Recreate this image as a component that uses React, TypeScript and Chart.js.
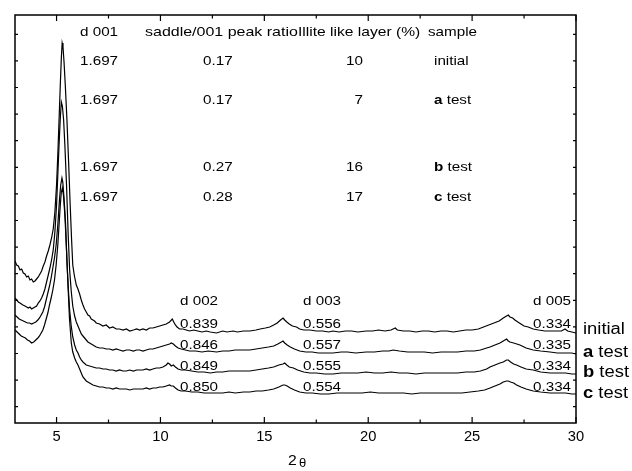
import { useEffect, useRef } from 'react';
import { Chart, registerables } from 'chart.js';
Chart.register(...registerables);

// x axis (2θ, degrees)
const X_MIN = 3;
const X_MAX = 30;
const X_MAJOR = [5, 10, 15, 20, 25, 30];
const X_MINOR = [7.5, 12.5, 17.5, 22.5, 27.5];
// y axis (arbitrary intensity, stacked traces)
const Y_MIN = 0;
const Y_MAX = 408;
const Y_TICKS = [16.3, 42.9, 69.5, 96.1, 122.7, 149.3, 175.9, 202.5, 229.1, 255.7, 282.3, 308.9, 335.5, 362.1, 388.7];

const SAMPLES = ['initial', 'a test', 'b test', 'c test'];

const INITIAL: [number, number][] = [
  [3.0, 162], [3.08, 158], [3.16, 157], [3.24, 153], [3.32, 154], [3.4, 150], [3.48, 149], [3.56, 146], [3.64, 147], [3.72, 143],
  [3.8, 144], [3.88, 141], [3.96, 142], [4.04, 144], [4.12, 146], [4.2, 149], [4.28, 152], [4.36, 157], [4.44, 161], [4.52, 167],
  [4.6, 172], [4.68, 178], [4.76, 185], [4.84, 194], [4.92, 211], [5.0, 238], [5.06, 268], [5.12, 303], [5.18, 338], [5.23, 365],
  [5.27, 380], [5.31, 376], [5.36, 361], [5.42, 338], [5.5, 303], [5.58, 261], [5.65, 221], [5.72, 185], [5.78, 158], [5.86, 147],
  [5.95, 138], [6.03, 134], [6.11, 129], [6.19, 123], [6.27, 118], [6.35, 114], [6.43, 111], [6.51, 108], [6.59, 107], [6.67, 104],
  [6.75, 103], [6.83, 102], [6.91, 100], [7.07, 99], [7.23, 97], [7.39, 98], [7.55, 95], [7.71, 96], [7.87, 94], [8.03, 94],
  [8.2, 93], [8.36, 94], [8.52, 92], [8.7, 93], [8.85, 94], [9.0, 93], [9.16, 94], [9.32, 93], [9.48, 95], [9.64, 95],
  [9.8, 96], [9.96, 97], [10.12, 98], [10.28, 99], [10.44, 101], [10.57, 104], [10.64, 101], [10.72, 98], [10.8, 96], [10.92, 94],
  [11.08, 94], [11.24, 93], [11.4, 92], [11.6, 93], [11.8, 92], [12.0, 91], [12.2, 92], [12.4, 91], [12.7, 90], [13.0, 92],
  [13.2, 91], [13.5, 92], [13.7, 91], [14.0, 92], [14.3, 92], [14.6, 93], [14.8, 94], [15.05, 95], [15.26, 96], [15.45, 98],
  [15.62, 100], [15.78, 103], [15.9, 105], [15.98, 103], [16.08, 101], [16.2, 99], [16.35, 97], [16.55, 96], [16.7, 94], [16.9, 93],
  [17.2, 93], [17.5, 92], [17.8, 92], [18.1, 91], [18.3, 92], [18.6, 91], [18.9, 92], [19.2, 92], [19.5, 91], [19.9, 92],
  [20.2, 92], [20.5, 93], [20.8, 92], [21.1, 93], [21.3, 95], [21.4, 93], [21.7, 92], [22.0, 92], [22.3, 91], [22.6, 92],
  [22.9, 92], [23.2, 91], [23.5, 92], [23.8, 92], [24.1, 91], [24.4, 92], [24.7, 93], [25.0, 93], [25.3, 94], [25.55, 96],
  [25.8, 98], [26.05, 100], [26.3, 102], [26.5, 105], [26.66, 107], [26.74, 108], [26.82, 106], [26.95, 105], [27.06, 103], [27.2, 101],
  [27.35, 99], [27.5, 97], [27.7, 96], [27.94, 94], [28.2, 93], [28.5, 92], [28.75, 92], [29.0, 92], [29.3, 92], [29.47, 94],
  [29.6, 92], [29.8, 91], [30.0, 90],
];

const A_TEST: [number, number][] = [
  [3.0, 125], [3.08, 123], [3.16, 121], [3.24, 120], [3.38, 118], [3.48, 117], [3.56, 116], [3.64, 115], [3.72, 116], [3.8, 114],
  [3.88, 115], [3.96, 116], [4.04, 117], [4.12, 120], [4.2, 122], [4.28, 125], [4.36, 129], [4.44, 134], [4.52, 141], [4.6, 148],
  [4.68, 155], [4.76, 163], [4.84, 173], [4.92, 191], [5.0, 218], [5.06, 248], [5.12, 278], [5.18, 305], [5.23, 321], [5.28, 317],
  [5.34, 303], [5.4, 278], [5.48, 238], [5.56, 188], [5.63, 153], [5.71, 131], [5.78, 117], [5.87, 107], [5.95, 101], [6.03, 97],
  [6.11, 93], [6.19, 89], [6.27, 87], [6.35, 85], [6.43, 83], [6.51, 81], [6.59, 80], [6.75, 78], [6.91, 76], [7.07, 75],
  [7.23, 75], [7.39, 74], [7.55, 74], [7.71, 73], [7.87, 74], [8.03, 73], [8.2, 72], [8.36, 73], [8.52, 73], [8.7, 72],
  [8.85, 73], [9.0, 73], [9.16, 72], [9.32, 73], [9.48, 74], [9.64, 74], [9.8, 75], [9.96, 76], [10.12, 77], [10.28, 78],
  [10.44, 79], [10.52, 80], [10.62, 79], [10.72, 77], [10.85, 75], [11.0, 74], [11.2, 73], [11.4, 72], [11.7, 72], [12.0, 71],
  [12.3, 72], [12.7, 71], [13.0, 72], [13.3, 72], [13.6, 73], [14.0, 73], [14.3, 73], [14.6, 74], [14.9, 75], [15.2, 76],
  [15.45, 77], [15.65, 79], [15.82, 81], [15.9, 82], [15.98, 80], [16.1, 78], [16.25, 76], [16.45, 74], [16.7, 72], [17.0, 71],
  [17.3, 71], [17.6, 70], [18.0, 70], [18.3, 70], [18.7, 71], [19.0, 71], [19.4, 70], [19.9, 71], [20.3, 71], [20.7, 72],
  [21.0, 72], [21.2, 73], [21.5, 72], [21.9, 71], [22.3, 71], [22.7, 71], [23.1, 70], [23.5, 71], [23.9, 71], [24.3, 71],
  [24.7, 72], [25.1, 72], [25.4, 73], [25.7, 75], [25.86, 76], [26.1, 78], [26.34, 80], [26.5, 82], [26.58, 83], [26.66, 84],
  [26.74, 82], [26.82, 81], [27.0, 80], [27.3, 78], [27.6, 75], [27.94, 73], [28.3, 72], [28.75, 71], [29.1, 70], [29.5, 70],
  [29.8, 70], [30.0, 69],
];

const B_TEST: [number, number][] = [
  [3.0, 108], [3.1, 106], [3.2, 104], [3.3, 103], [3.4, 102], [3.5, 101], [3.6, 100], [3.7, 100], [3.8, 99], [3.9, 100],
  [4.0, 101], [4.1, 103], [4.18, 105], [4.26, 108], [4.34, 111], [4.42, 116], [4.5, 123], [4.58, 130], [4.66, 137], [4.74, 145],
  [4.82, 155], [4.9, 165], [4.98, 178], [5.06, 198], [5.14, 223], [5.2, 238], [5.26, 245], [5.3, 241], [5.36, 225], [5.43, 201],
  [5.5, 161], [5.57, 133], [5.63, 113], [5.7, 98], [5.78, 86], [5.87, 78], [5.95, 73], [6.03, 70], [6.11, 66], [6.19, 63],
  [6.27, 61], [6.43, 58], [6.59, 57], [6.75, 56], [6.91, 55], [7.07, 55], [7.23, 54], [7.39, 54], [7.55, 53], [7.71, 53],
  [7.87, 52], [8.03, 53], [8.2, 52], [8.36, 52], [8.52, 53], [8.7, 52], [8.85, 53], [9.0, 53], [9.16, 53], [9.32, 54],
  [9.48, 53], [9.64, 54], [9.8, 55], [9.96, 55], [10.12, 56], [10.28, 58], [10.36, 60], [10.44, 59], [10.52, 57], [10.62, 58],
  [10.72, 56], [10.85, 54], [11.0, 53], [11.2, 53], [11.5, 52], [11.8, 51], [12.1, 51], [12.4, 50], [12.7, 51], [13.0, 51],
  [13.3, 52], [13.6, 52], [14.0, 52], [14.3, 52], [14.6, 53], [14.9, 54], [15.2, 55], [15.45, 56], [15.7, 58], [15.9, 59],
  [15.98, 60], [16.08, 58], [16.2, 56], [16.4, 55], [16.6, 53], [16.9, 51], [17.2, 50], [17.5, 50], [17.9, 49], [18.3, 49],
  [18.7, 50], [19.1, 50], [19.5, 50], [19.9, 51], [20.3, 50], [20.7, 50], [21.1, 51], [21.5, 50], [21.9, 50], [22.3, 49],
  [22.7, 50], [23.1, 50], [23.5, 50], [23.9, 50], [24.3, 50], [24.7, 51], [25.1, 51], [25.4, 52], [25.7, 54], [25.86, 56],
  [26.1, 58], [26.34, 60], [26.5, 61], [26.66, 63], [26.74, 63], [26.85, 61], [27.0, 59], [27.14, 58], [27.35, 56], [27.6, 54],
  [27.94, 53], [28.3, 51], [28.75, 50], [29.1, 50], [29.5, 50], [29.8, 49], [30.0, 49],
];

const C_TEST: [number, number][] = [
  [3.0, 93], [3.1, 91], [3.2, 89], [3.3, 87], [3.4, 86], [3.5, 85], [3.6, 83], [3.7, 82], [3.8, 80], [3.9, 81],
  [4.0, 83], [4.1, 85], [4.18, 87], [4.26, 90], [4.34, 93], [4.42, 98], [4.5, 104], [4.58, 110], [4.66, 118], [4.74, 125],
  [4.82, 133], [4.9, 143], [4.98, 158], [5.06, 178], [5.12, 198], [5.18, 218], [5.23, 231], [5.28, 235], [5.33, 228], [5.4, 208],
  [5.48, 173], [5.55, 138], [5.62, 105], [5.71, 80], [5.78, 71], [5.87, 65], [5.95, 61], [6.03, 58], [6.11, 54], [6.19, 50],
  [6.27, 46], [6.43, 42], [6.59, 40], [6.75, 38], [6.91, 37], [7.07, 36], [7.23, 36], [7.39, 35], [7.55, 35], [7.71, 34],
  [7.87, 35], [8.03, 34], [8.2, 34], [8.36, 34], [8.52, 33], [8.7, 34], [8.85, 34], [9.0, 34], [9.16, 34], [9.32, 35],
  [9.48, 34], [9.64, 35], [9.8, 35], [9.96, 36], [10.12, 36], [10.28, 37], [10.44, 38], [10.52, 37], [10.62, 37], [10.72, 35],
  [10.85, 33], [11.0, 32], [11.2, 32], [11.5, 31], [11.8, 31], [12.1, 30], [12.4, 30], [12.7, 30], [13.0, 30], [13.3, 31],
  [13.6, 30], [14.0, 31], [14.3, 31], [14.6, 32], [14.9, 32], [15.2, 33], [15.45, 34], [15.7, 36], [15.9, 38], [15.98, 38],
  [16.1, 37], [16.25, 35], [16.45, 33], [16.7, 31], [17.0, 30], [17.3, 30], [17.7, 29], [18.1, 29], [18.5, 30], [18.9, 30],
  [19.3, 30], [19.7, 30], [20.1, 31], [20.5, 30], [20.9, 30], [21.3, 30], [21.7, 30], [22.1, 29], [22.5, 30], [22.9, 30],
  [23.3, 30], [23.7, 30], [24.1, 30], [24.5, 30], [24.9, 31], [25.3, 32], [25.6, 33], [25.86, 35], [26.1, 37], [26.34, 39],
  [26.5, 41], [26.66, 42], [26.74, 42], [26.85, 41], [27.0, 40], [27.14, 38], [27.35, 36], [27.6, 34], [27.94, 32], [28.3, 31],
  [28.75, 30], [29.1, 30], [29.5, 30], [29.8, 29], [30.0, 29],
];

const SERIES = [INITIAL, A_TEST, B_TEST, C_TEST];

// table and peak annotations
const HEADERS = ['d 001', 'saddle/001 peak ratio', 'Illite like layer (%)', 'sample'];
const D001 = ['1.697', '1.697', '1.697', '1.697'];
const SADDLE = ['0.17', '0.17', '0.27', '0.28'];
const ILLITE = ['10', '7', '16', '17'];
const PEAK_HEADERS = ['d 002', 'd 003', 'd 005'];
const D002 = ['0.839', '0.846', '0.849', '0.850'];
const D003 = ['0.556', '0.557', '0.555', '0.554'];
const D005 = ['0.334', '0.335', '0.334', '0.334'];

const FONT = '"Liberation Sans", Arial, Helvetica, sans-serif';

function drawText(
  ctx: CanvasRenderingContext2D,
  s: string,
  x: number,
  y: number,
  size: number,
  align: 'left' | 'right' | 'center' = 'left',
  bold = false,
  sx = 1.15,
) {
  ctx.save();
  ctx.font = `${bold ? 'bold ' : ''}${size}px ${FONT}`;
  ctx.textBaseline = 'middle';
  ctx.textAlign = 'left';
  const w = ctx.measureText(s).width * sx;
  const left = align === 'left' ? x : align === 'right' ? x - w : x - w / 2;
  ctx.translate(left, y);
  ctx.scale(sx, 1);
  ctx.fillStyle = '#000';
  ctx.fillText(s, 0, 0);
  ctx.restore();
  return w;
}

function drawSample(ctx: CanvasRenderingContext2D, s: string, x: number, y: number, size: number, sx: number) {
  if (s === 'initial') {
    drawText(ctx, s, x, y, size, 'left', false, sx);
    return;
  }
  const first = s.slice(0, 1);
  const rest = s.slice(1);
  const w = drawText(ctx, first, x, y, size, 'left', true, sx);
  drawText(ctx, rest, x + w, y, size, 'left', false, sx);
}

const decorPlugin = {
  id: 'decor',
  afterDraw(chart: any) {
    const ctx: CanvasRenderingContext2D = chart.ctx;
    const xs = chart.scales.x;
    const ys = chart.scales.y;
    const { left, right, top, bottom } = chart.chartArea;
    ctx.save();
    ctx.strokeStyle = '#000';
    ctx.lineWidth = 1.5;
    ctx.strokeRect(left, top, right - left, bottom - top);
    ctx.lineWidth = 1.2;
    ctx.beginPath();
    X_MAJOR.forEach((v) => {
      const px = xs.getPixelForValue(v);
      ctx.moveTo(px, bottom);
      ctx.lineTo(px, bottom - 6);
      ctx.moveTo(px, top);
      ctx.lineTo(px, top + 6);
    });
    X_MINOR.forEach((v) => {
      const px = xs.getPixelForValue(v);
      ctx.moveTo(px, bottom);
      ctx.lineTo(px, bottom - 3.5);
      ctx.moveTo(px, top);
      ctx.lineTo(px, top + 3.5);
    });
    Y_TICKS.forEach((v) => {
      const py = ys.getPixelForValue(v);
      ctx.moveTo(left, py);
      ctx.lineTo(left + 3, py);
      ctx.moveTo(right, py);
      ctx.lineTo(right - 3, py);
    });
    ctx.stroke();
    ctx.restore();

    // x tick labels
    X_MAJOR.forEach((v) => {
      drawText(ctx, String(v), xs.getPixelForValue(v), bottom + 14, 14, 'center', false, 1.05);
    });
    // axis title 2θ
    const cx = (left + right) / 2 + 2;
    drawText(ctx, '2', cx - 5, bottom + 38, 15, 'center', false, 1.05);
    drawText(ctx, 'θ', cx + 5, bottom + 40, 13, 'center', false, 1.0);

    // table
    drawText(ctx, HEADERS[0], 80, 32, 13, 'left', false, 1.17);
    drawText(ctx, HEADERS[1], 145, 32, 13, 'left', false, 1.23);
    drawText(ctx, HEADERS[2], 298, 32, 13, 'left', false, 1.2);
    drawText(ctx, HEADERS[3], 428, 32, 13, 'left', false, 1.17);
    const rowY = [61, 100, 167, 197];
    rowY.forEach((ry, i) => {
      drawText(ctx, D001[i], 80, ry, 13, 'left', false, 1.17);
      drawText(ctx, SADDLE[i], 203, ry, 13, 'left', false, 1.17);
      drawText(ctx, ILLITE[i], 363, ry, 13, 'right', false, 1.17);
      drawSample(ctx, SAMPLES[i], 434, ry, 13, 1.17);
    });

    // peak labels
    const peakX = [180, 303, 533];
    PEAK_HEADERS.forEach((h, j) => drawText(ctx, h, peakX[j], 301, 13, 'left', false, 1.17));
    const valY = [324, 345, 366, 387];
    valY.forEach((vy, i) => {
      drawText(ctx, D002[i], peakX[0], vy, 13, 'left', false, 1.17);
      drawText(ctx, D003[i], peakX[1], vy, 13, 'left', false, 1.17);
      drawText(ctx, D005[i], peakX[2], vy, 13, 'left', false, 1.17);
    });

    // right-side trace labels
    const sideY = [330, 353, 373, 394];
    sideY.forEach((sy, i) => drawSample(ctx, SAMPLES[i], right + 7, sy, 16, 1.15));
  },
};

export default function App() {
  const ref = useRef<HTMLCanvasElement | null>(null);
  useEffect(() => {
    document.body.style.margin = '0';
    if (!ref.current) return;
    const chart = new Chart(ref.current, {
      type: 'line',
      data: {
        datasets: SERIES.map((s, i) => ({
          label: SAMPLES[i],
          data: s.map(([x, y]) => ({ x, y })),
          borderColor: '#000',
          borderWidth: 1.2,
          pointRadius: 0,
          tension: 0,
          fill: false,
        })),
      },
      options: {
        animation: false,
        responsive: false,
        maintainAspectRatio: false,
        devicePixelRatio: 1,
        layout: { padding: { left: 15, top: 15, right: 56, bottom: 48 } },
        plugins: { legend: { display: false }, tooltip: { enabled: false } },
        scales: {
          x: { type: 'linear', min: X_MIN, max: X_MAX, display: false },
          y: { type: 'linear', min: Y_MIN, max: Y_MAX, display: false },
        },
      },
      plugins: [decorPlugin],
    });
    return () => chart.destroy();
  }, []);
  return (
    <div style={{ width: 632, height: 471, background: '#fff' }}>
      <canvas ref={ref} width={632} height={471} style={{ display: 'block', width: 632, height: 471 }} />
    </div>
  );
}
